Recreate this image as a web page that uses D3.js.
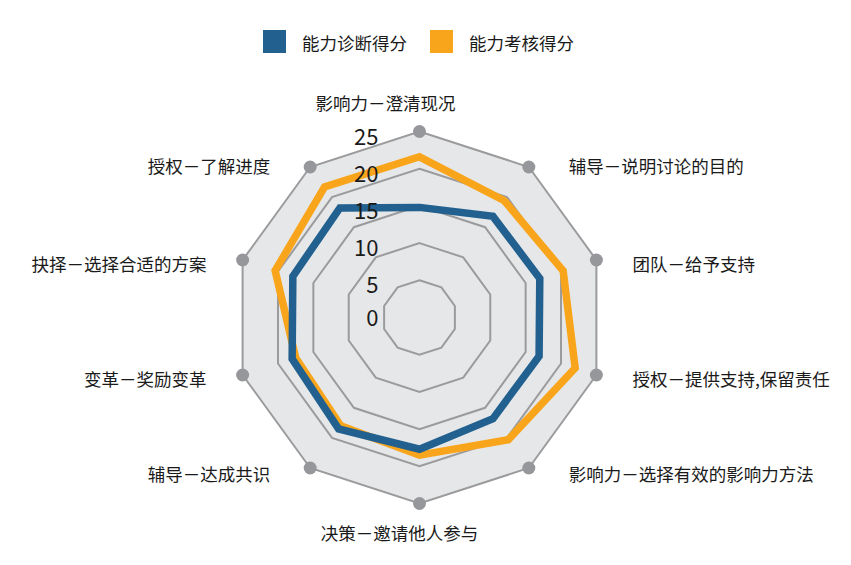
<!DOCTYPE html>
<html><head><meta charset="utf-8">
<script src="https://cdn.jsdelivr.net/npm/d3@7"></script>
<style>
html,body{margin:0;padding:0;background:#fff;}
text{font-family:"Noto Sans CJK SC","Noto Sans",sans-serif;fill:#1a1a1a;}
</style></head>
<body><svg id="c" width="851" height="565"></svg>
<script>
const axes = ["影响力－澄清现况","辅导－说明讨论的目的","团队－给予支持","授权－提供支持,保留责任","影响力－选择有效的影响力方法","决策－邀请他人参与","辅导－达成共识","变革－奖励变革","抉择－选择合适的方案","授权－了解进度"];
const seriesNames = ["能力诊断得分","能力考核得分"];
const diagnosis = [14.8,16.8,17.0,16.9,16.8,17.7,18.5,18.0,17.9,18.2];
const assessment = [21.6,19.4,20.3,22.0,20.3,18.5,18.0,17.5,20.4,21.7];
const ticks = [0,5,10,15,20,25];
const colors = ["#22608f","#f9a51c"];

const svg = d3.select("#c");
const cx = 419.5, cy = 317.5, R = 186;
const r = d3.scaleLinear().domain([0,25]).range([0,R]);
const ang = d3.scaleLinear().domain([0,axes.length]).range([0,2*Math.PI]);
const pt = (i,v)=>[cx + r(v)*Math.sin(ang(i)), cy - r(v)*Math.cos(ang(i))];
const g = svg.append("g");

// background
const ringPath = v => "M" + axes.map((a,i)=>pt(i,v).join(",")).join("L") + "Z";
g.append("path").attr("d", ringPath(25)).attr("fill","#e6e7e8").attr("stroke","none");
ticks.filter(t=>t>0).forEach(t=>{
  g.append("path").attr("d", ringPath(t)).attr("fill","none").attr("stroke","#9b9b9d").attr("stroke-width",2);
});
// outer dots
g.selectAll("circle.dot").data(axes).join("circle")
  .attr("cx",(d,i)=>pt(i,25)[0]).attr("cy",(d,i)=>pt(i,25)[1])
  .attr("r",6.5).attr("fill","#96979a");

// series
const line = d3.lineRadial().angle((d,i)=>ang(i)).radius(d=>r(d)).curve(d3.curveLinearClosed);
[assessment, diagnosis].forEach((s,k)=>{
  g.append("path").attr("transform",`translate(${cx},${cy})`)
   .attr("d", line(s)).attr("fill","none")
   .attr("stroke", k===0?colors[1]:colors[0]).attr("stroke-width",7.5)
   .attr("stroke-linejoin","miter");
});

// tick labels
g.selectAll("text.tick").data(ticks).join("text")
  .attr("x", cx - 41).attr("y", d=>cy - r(d) + (d===0 ? -2 : 3))
  .attr("text-anchor","end").attr("dominant-baseline","central")
  .attr("font-size",22).text(d=>d);

// axis labels
axes.forEach((a,i)=>{
  const s = Math.sin(ang(i)), c = Math.cos(ang(i));
  let anchor = "middle", x, y;
  if (Math.abs(s) < 0.1) {
    x = cx - 27 - 7*c; y = cy - (R + 29)*c;
  } else {
    anchor = s>0 ? "start" : "end";
    const gap = Math.abs(c) > 0.5 ? 40 : 36;
    x = cx + R*s + (s>0 ? gap : -gap);
    y = cy - R*c + (c>0.5 ? -2 : (c<-0.5 ? 6 : 3.5));
  }
  g.append("text").attr("x",x).attr("y",y).attr("text-anchor",anchor)
   .attr("dominant-baseline","central").attr("font-size",17.5).text(a);
});

// legend
const lg = svg.append("g");
const legX = [263, 430];
seriesNames.forEach((n,i)=>{
  lg.append("rect").attr("x",legX[i]).attr("y",30).attr("width",23).attr("height",23).attr("fill",colors[i]);
  lg.append("text").attr("x",legX[i]+39).attr("y",42).attr("dominant-baseline","central")
    .attr("font-size",17.5).text(n);
});
</script></body></html>
